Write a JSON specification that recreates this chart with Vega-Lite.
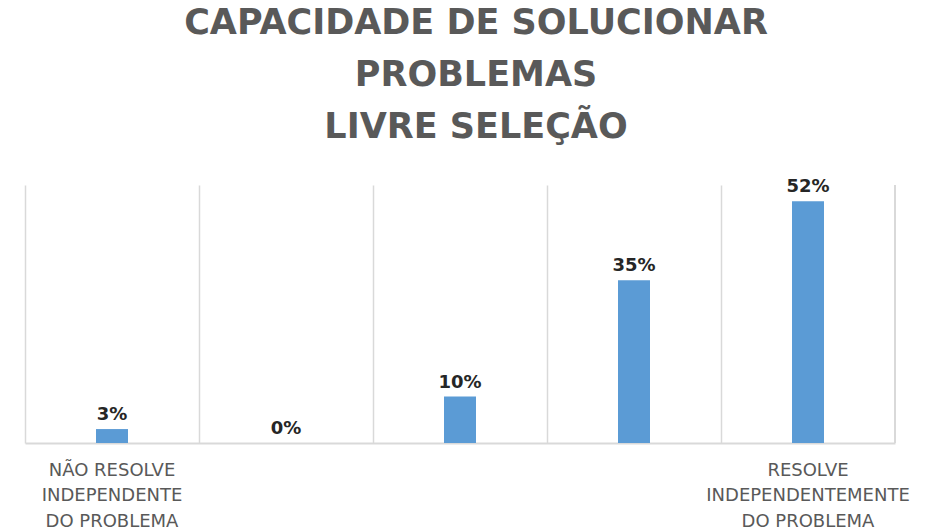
{
  "$schema": "https://vega.github.io/schema/vega-lite/v6.json",
  "autosize": "none",
  "width": 870,
  "height": 258,
  "padding": {"left": 25, "top": 185, "right": 57, "bottom": 89},
  "background": "white",
  "title": {
    "text": ["CAPACIDADE DE SOLUCIONAR", "PROBLEMAS", "LIVRE SELEÇÃO"],
    "font": "DejaVu Sans",
    "fontSize": 35,
    "fontWeight": "bold",
    "color": "#595959",
    "lineHeight": 52,
    "anchor": "middle",
    "dx": 16,
    "offset": 33
  },
  "data": {
    "values": [
      {"nivel": 1, "percentual": 0.03},
      {"nivel": 2, "percentual": 0.0},
      {"nivel": 3, "percentual": 0.10},
      {"nivel": 4, "percentual": 0.35},
      {"nivel": 5, "percentual": 0.52}
    ]
  },
  "encoding": {
    "x": {
      "field": "nivel",
      "type": "ordinal",
      "scale": {"paddingInner": 0, "paddingOuter": 0},
      "axis": {
        "title": null,
        "grid": true,
        "bandPosition": 0,
        "gridColor": "#d9d9d9",
        "gridWidth": 1.5,
        "ticks": false,
        "domainColor": "#d9d9d9",
        "domainWidth": 2,
        "labelAngle": 0,
        "labelFont": "DejaVu Sans",
        "labelFontSize": 18,
        "labelColor": "#595959",
        "labelLineHeight": 25.5,
        "labelPadding": 18,
        "labelBaseline": "top",
        "labelLimit": 0,
        "labelOverlap": false,
        "labelExpr": "datum.value == 1 ? ['NÃO RESOLVE', 'INDEPENDENTE', 'DO PROBLEMA'] : (datum.value == 5 ? ['RESOLVE', 'INDEPENDENTEMENTE', 'DO PROBLEMA'] : '')"
      }
    },
    "y": {
      "field": "percentual",
      "type": "quantitative",
      "scale": {"domain": [0, 0.555], "nice": false},
      "axis": null
    }
  },
  "layer": [
    {
      "mark": {"type": "bar", "size": 32, "color": "#5b9bd5"}
    },
    {
      "mark": {
        "type": "text",
        "baseline": "bottom",
        "dy": -5,
        "font": "DejaVu Sans",
        "fontSize": 18,
        "fontWeight": "bold",
        "color": "#262626"
      },
      "encoding": {
        "text": {"field": "percentual", "type": "quantitative", "format": ".0%"}
      }
    },
    {
      "mark": {"type": "rule", "color": "#d9d9d9", "strokeWidth": 1.5},
      "encoding": {
        "x": {"value": 870},
        "y": {"value": 0},
        "y2": {"value": 258}
      }
    }
  ],
  "config": {"view": {"stroke": null}}
}
